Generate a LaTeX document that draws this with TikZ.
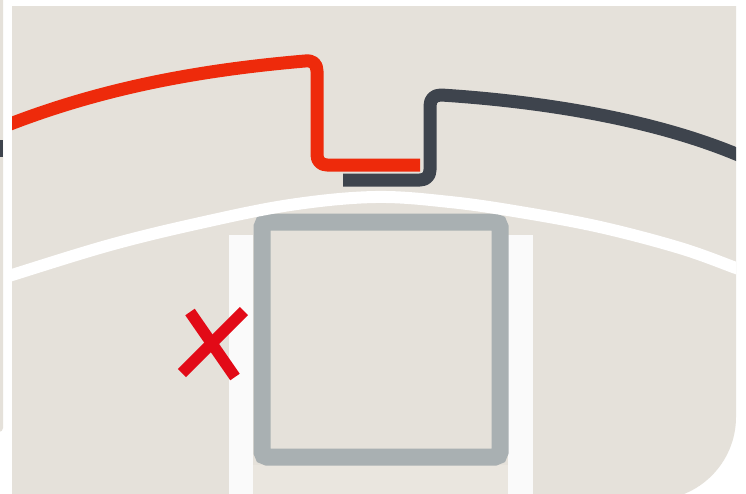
\documentclass[tikz,border=0pt]{standalone}
\definecolor{panel}{HTML}{E5E1DA}
\definecolor{panellight}{HTML}{EAE6DF}
\definecolor{routered}{HTML}{EE2A0B}
\definecolor{routedark}{HTML}{3E444D}
\definecolor{crossred}{HTML}{E20A17}
\definecolor{framegray}{HTML}{A9B0B2}
\definecolor{stripwhite}{HTML}{FAFAFA}
\tikzset{
  redroute/.style={draw=routered, line width=13pt, line cap=butt, line join=round},
  darkroute/.style={draw=routedark, line width=13pt, line cap=butt, line join=round},
  whitearc/.style={draw=white, line width=12pt},
  whitestrip/.style={fill=stripwhite},
  grayframe/.style={draw=framegray, line width=17pt, rounded corners=5pt},
  crossstroke/.style={draw=crossred, line width=11.5pt, line cap=butt}
}
\begin{document}
\begin{tikzpicture}[x=1pt,y=-1pt]
\useasboundingbox (0,0) rectangle (746,493);
\fill[white] (0,0) rectangle (746,493);
% neighbouring panel sliver on the left
\begin{scope}
\clip (0,0) rectangle (746,493);
\fill[panel, rounded corners=4pt] (-10,-10) -- (3,-10) -- (3,432) -- (-10,432) -- cycle;
\fill[routedark] (0,140) rectangle (3,157);
\end{scope}
% main panel
\begin{scope}
\clip (0,0) rectangle (746,493);
\path[fill=panel] (12,6) -- (736,6) -- (736,417)
  .. controls (736,462.8) and (698.8,500) .. (653,500) -- (12,500) -- cycle;
\clip (12,6) -- (736,6) -- (736,417)
  .. controls (736,462.8) and (698.8,500) .. (653,500) -- (12,500) -- cycle;
% lighter area below the frame
\fill[panellight] (253,465) rectangle (508,500);
% white strips
\fill[whitestrip] (229,235) rectangle (253,500);
\fill[whitestrip] (508,235) rectangle (533,500);
% grey frame
\draw[grayframe] (262,222) rectangle (500,457);
% white arc
\draw[whitearc] plot[smooth, tension=0.6] coordinates
  {(0,279) (12,275) (110,245) (200,223) (290,205) (375,197) (450,202) (520,212) (600,227) (680,248) (736,268) (750,273)};
% dark route
\draw[darkroute] (343,180) -- (420,180)
  .. controls (426,180) and (430,176) .. (430,170) -- (430,106)
  .. controls (430,99) and (434,95) .. (441,95)
  .. controls (520,100) and (650,115) .. (750,160);
% red route
\draw[redroute] (0,128) .. controls (100,88) and (200,70) .. (305,61)
  .. controls (313,60) and (317,64) .. (317,71) -- (317,155)
  .. controls (317,161) and (321,165) .. (327,165) -- (420,165);
% red cross
\draw[crossstroke] (182,373) -- (244,311);
\draw[crossstroke] (190,312) -- (235,377);
\end{scope}
\end{tikzpicture}
\end{document}
